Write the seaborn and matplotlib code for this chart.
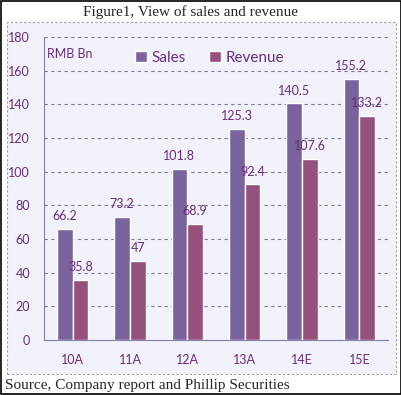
import numpy as np
import pandas as pd
import seaborn as sns
import matplotlib.pyplot as plt
from matplotlib.patches import Rectangle

# datos del grafico
anios = ["10A", "11A", "12A", "13A", "14E", "15E"]
ventas = [66.2, 73.2, 101.8, 125.3, 140.5, 155.2]
ingresos = [35.8, 47, 68.9, 92.4, 107.6, 133.2]
series = ["Sales", "Revenue"]
yticks = [0, 20, 40, 60, 80, 100, 120, 140, 160, 180]

df = pd.DataFrame({
    "anio": anios * 2,
    "serie": [series[0]] * len(anios) + [series[1]] * len(anios),
    "valor": ventas + ingresos,
})

sns.set_style("white")
plt.rcParams["font.family"] = ["Lato", "DejaVu Sans"]

color_txt = "#6a2d7e"
colores = {"Sales": "#7759a6", "Revenue": "#a0457f"}

fig = plt.figure(figsize=(4.02, 3.95), dpi=100)

# marco exterior y zona del grafico
fig.patches.append(Rectangle((0.002, 0.002), 0.995, 0.995, transform=fig.transFigure,
                             fill=False, edgecolor="black", linewidth=1.2, zorder=-2))
fig.patches.append(Rectangle((7 / 402, 1 - 374 / 395), 389 / 402, 352 / 395,
                             transform=fig.transFigure, facecolor="#f1f1fa",
                             edgecolor="#a0a0a0", linestyle=(0, (2, 2)), linewidth=0.8,
                             zorder=-1))

ax = fig.add_axes([44 / 402, 1 - 340 / 395, 344 / 402, 303 / 395])
ax.set_facecolor("none")

sns.barplot(data=df, x="anio", y="valor", hue="serie", palette=colores,
            width=0.55, gap=0.02, ax=ax, legend=True, zorder=3)

for cont in ax.containers:
    ax.bar_label(cont, labels=[f"{v:g}" for v in cont.datavalues], padding=5,
                 color=color_txt, fontsize=9)

ax.set_ylim(0, 180)
ax.set_xlim(-0.5, 5.5)
ax.set_yticks(yticks)
ax.set_xlabel("")
ax.set_ylabel("")
ax.tick_params(axis="y", length=0, labelsize=9, labelcolor=color_txt, pad=10)
ax.tick_params(axis="x", length=0, labelsize=9, labelcolor=color_txt, pad=10)
ax.set_xticks(np.arange(0.5, 5.5, 1), minor=True)
ax.tick_params(axis="x", which="minor", length=3, direction="inout", color="#8080a8")

ax.grid(axis="y", color="#7a7a95", linestyle=(0, (3, 3)), linewidth=0.8, zorder=0)
for s in ["top", "right"]:
    ax.spines[s].set_visible(False)
ax.spines["left"].set_color("#8080a8")
ax.spines["bottom"].set_color("#8080a8")

leg = ax.legend(loc="upper left", bbox_to_anchor=(0.225, 1.0), ncol=2, frameon=False,
                fontsize=11, handlelength=0.8, handleheight=0.8, columnspacing=1.5,
                handletextpad=0.3)
for t in leg.get_texts():
    t.set_color(color_txt)

ax.text(0.01, 0.93, "RMB Bn", transform=ax.transAxes, color=color_txt, fontsize=9)

fig.text(191 / 402, 1 - 12 / 395, "Figure1, View of sales and revenue", ha="center",
         va="center", family="Liberation Serif", fontsize=11)
fig.text(5 / 402, 1 - 385 / 395, "Source, Company report and Phillip Securities",
         ha="left", va="center", family="Liberation Serif", fontsize=11)

fig.savefig("out.png", dpi=100)
